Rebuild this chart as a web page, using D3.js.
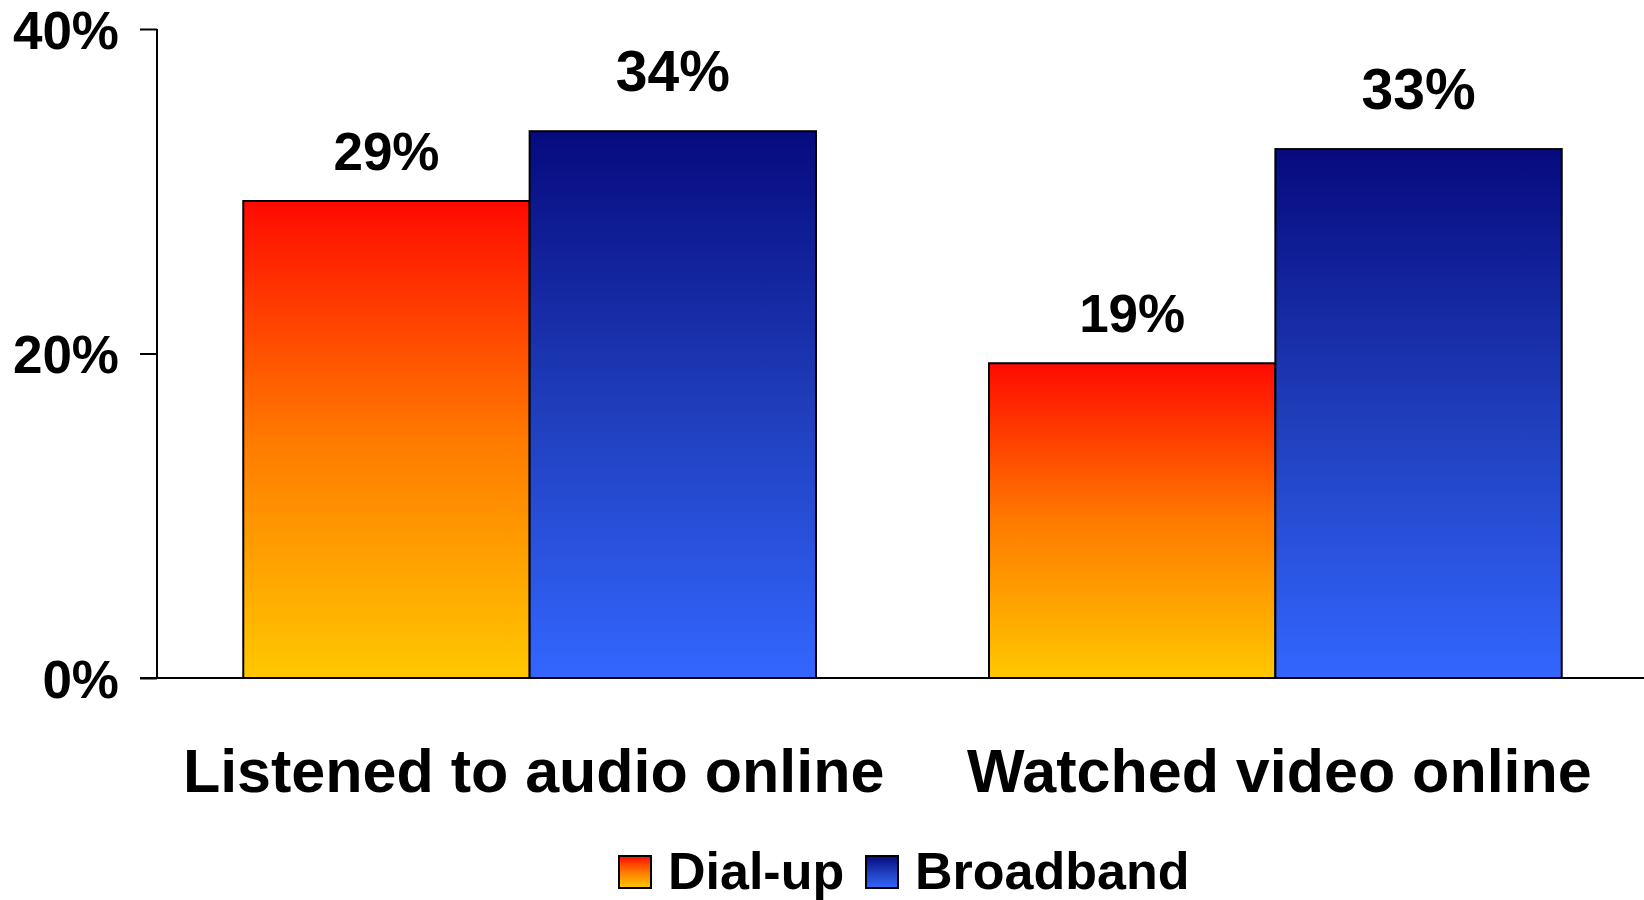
<!DOCTYPE html>
<html>
<head>
<meta charset="utf-8">
<script src="https://cdn.jsdelivr.net/npm/d3@7"></script>
<style>
  html, body { margin: 0; padding: 0; background: #fff; }
  svg { display: block; }
  text { font-family: "Liberation Sans", Arial, Helvetica, sans-serif; font-weight: bold; fill: #000; }
</style>
</head>
<body>
<svg id="chart" width="1644" height="900"></svg>
<script>
const categories = ["Listened to audio online", "Watched video online"];
const seriesNames = ["Dial-up", "Broadband"];
const dialup = [29.4, 19.4];
const broadband = [33.7, 32.6];
const yTicks = [0, 20, 40];

const W = 1644, H = 900;
const svg = d3.select("#chart");

const x0 = d3.scaleBand().domain(categories).range([159, 1646]).paddingInner(0.232).paddingOuter(0.113);
const x1 = d3.scaleBand().domain(seriesNames).range([0, x0.bandwidth()]).padding(0);
const y = d3.scaleLinear().domain([0, 40]).range([678, 29]);

// gradients
const defs = svg.append("defs");
const grads = {
  "Dial-up": ["#ff0a00", "#ff7a00", "#ffc800"],
  "Broadband": ["#060a7e", "#1f3dba", "#3366ff"]
};
seriesNames.forEach((s, i) => {
  const g = defs.append("linearGradient").attr("id", "g" + i)
    .attr("x1", 0).attr("y1", 0).attr("x2", 0).attr("y2", 1);
  g.append("stop").attr("offset", "0%").attr("stop-color", grads[s][0]);
  g.append("stop").attr("offset", "50%").attr("stop-color", grads[s][1]);
  g.append("stop").attr("offset", "100%").attr("stop-color", grads[s][2]);
});

const rows = [];
categories.forEach((c, ci) => {
  rows.push({cat: c, series: "Dial-up", si: 0, v: dialup[ci]});
  rows.push({cat: c, series: "Broadband", si: 1, v: broadband[ci]});
});

// bars
svg.append("g").selectAll("rect").data(rows).join("rect")
  .attr("x", d => x0(d.cat) + x1(d.series))
  .attr("y", d => y(d.v))
  .attr("width", x1.bandwidth())
  .attr("height", d => y(0) - y(d.v))
  .attr("fill", d => "url(#g" + d.si + ")")
  .attr("stroke", "#000").attr("stroke-width", 2);

// y axis
const yAxis = d3.axisLeft(y).tickValues(yTicks).tickFormat(d => d + "%").tickSize(17).tickPadding(21);
const ga = svg.append("g").attr("transform", "translate(157,0)").call(yAxis);
ga.select(".domain").attr("stroke", "#000").attr("stroke-width", 2).attr("d", "M0,29V678");
ga.selectAll(".tick line").attr("stroke", "#000").attr("stroke-width", 2);
ga.selectAll(".tick text").attr("font-size", 53).attr("font-family", null).attr("dy", "0.36em");

// baseline
svg.append("line").attr("x1", 140).attr("x2", W).attr("y1", y(0)).attr("y2", y(0))
  .attr("stroke", "#000").attr("stroke-width", 2);

// value labels
svg.append("g").selectAll("text").data(rows).join("text")
  .attr("x", d => x0(d.cat) + x1(d.series) + x1.bandwidth() / 2)
  .attr("y", d => y(d.v) - (d.si === 0 ? 31 : 40))
  .attr("text-anchor", "middle")
  .attr("font-size", d => d.si === 0 ? 53 : 57)
  .text(d => Math.round(d.v) + "%");

// category labels
svg.append("g").selectAll("text").data(categories).join("text")
  .attr("x", d => x0(d) + x0.bandwidth() / 2 + 4)
  .attr("y", 792)
  .attr("text-anchor", "middle")
  .attr("font-size", 61)
  .text(d => d);

// legend
const legendX = [619, 866];
const lg = svg.append("g");
seriesNames.forEach((s, i) => {
  lg.append("rect").attr("x", legendX[i]).attr("y", 856).attr("width", 32).attr("height", 32)
    .attr("fill", "url(#g" + i + ")").attr("stroke", "#000").attr("stroke-width", 2);
  lg.append("text").attr("x", legendX[i] + 49).attr("y", 889).attr("font-size", 52).text(s);
});
</script>
</body>
</html>
